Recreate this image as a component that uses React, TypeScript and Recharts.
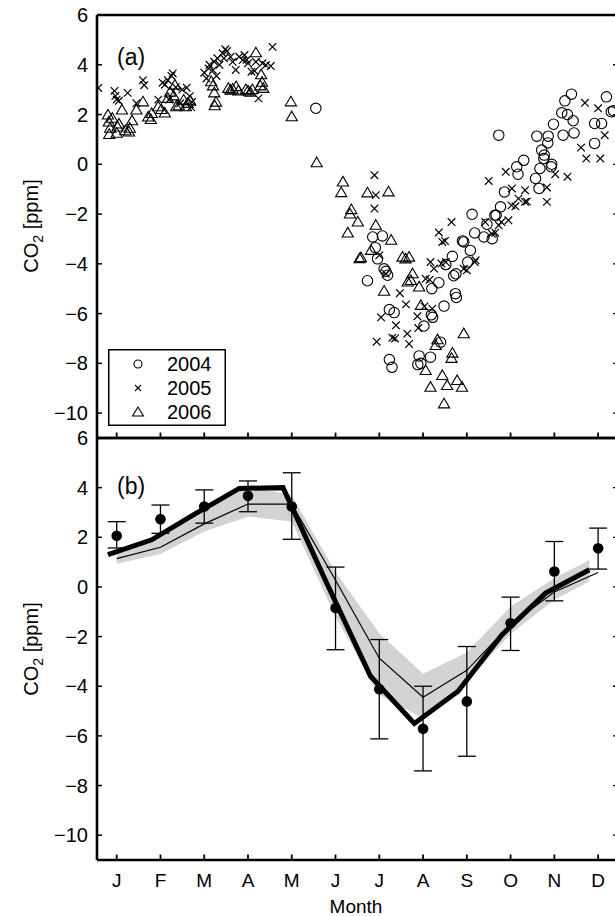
import React from "react";
import {
  Scatter,
  ComposedChart,
  Line,
  Area,
  XAxis,
  YAxis,
  ErrorBar,
} from "recharts";

const FONT = "'Liberation Sans', Arial, Helvetica, sans-serif";

// x is the month position, 1 = January tick
const monthTicks = [1, 2, 3, 4, 5, 6, 7, 8, 9, 10, 11, 12];
const monthLabels = ["J", "F", "M", "A", "M", "J", "J", "A", "S", "O", "N", "D"];
const co2Ticks = [-10, -8, -6, -4, -2, 0, 2, 4, 6];
const years = ["2004", "2005", "2006"];

// panel (a): observations per year, [month, CO2 ppm]
const obs2004: [number, number][] = [
  [5.55, 2.25],
  [6.73, -4.68], [6.85, -2.92], [6.91, -3.35], [6.96, -3.8], [7.07, -2.88], [7.11, -4.2], [7.15, -4.3], [7.19, -4.46],
  [7.23, -5.84], [7.34, -5.96], [7.23, -7.85], [7.29, -8.16],
  [7.91, -7.7], [7.95, -8.0], [7.88, -8.05], [8.17, -7.75], [8.4, -7.15],
  [8.02, -6.5], [8.19, -6.05], [8.22, -6.15], [8.48, -5.7], [8.74, -5.2], [8.76, -5.35],
  [8.2, -5.0], [8.36, -4.76], [8.52, -4.03], [8.67, -3.7], [8.7, -4.48], [8.75, -4.4],
  [8.9, -3.08], [8.93, -3.12], [9.02, -3.93], [9.08, -3.46], [9.12, -2.01], [9.18, -2.76],
  [9.39, -2.92], [9.46, -2.41], [9.58, -2.99], [9.64, -2.05], [9.67, -2.05], [9.77, -1.71], [9.86, -1.11],
  [9.73, 1.17],
  [10.14, -0.1], [10.17, -0.4], [10.3, 0.16], [10.57, -0.57], [10.6, 1.13], [10.65, -0.97], [10.67, -0.17],
  [10.71, 0.57], [10.77, 0.37], [10.76, 0.23], [10.85, 0.86], [10.86, 1.13], [10.94, 0.0], [10.93, -0.1],
  [10.98, 1.61], [11.17, 2.07], [11.2, 1.17], [11.24, 2.55], [11.3, 2.0], [11.39, 2.82], [11.43, 1.75], [11.45, 1.26],
  [11.92, 1.64], [11.92, 0.84], [12.08, 1.64], [12.19, 2.71], [12.3, 2.11], [12.35, 2.15],
];

const obs2005: [number, number][] = [
  [0.58, 3.07], [0.95, 2.95], [0.97, 2.75], [1.0, 2.6], [1.05, 2.55], [1.25, 2.87], [1.45, 2.45], [1.6, 3.38],
  [1.63, 3.18], [1.95, 2.6], [2.05, 3.28], [2.1, 3.2], [2.17, 3.38], [2.25, 3.55], [2.28, 3.65], [2.35, 3.1],
  [2.5, 3.0], [2.6, 3.08], [2.67, 2.74], [2.72, 2.5], [2.7, 2.3], [2.45, 2.45], [2.2, 2.6],
  [3.0, 3.68], [3.05, 3.45], [3.1, 3.85], [3.12, 4.0], [3.2, 3.78], [3.23, 4.12], [3.28, 3.55], [3.3, 4.26],
  [3.35, 4.0], [3.42, 4.46], [3.45, 4.26], [3.48, 4.62], [3.52, 4.55], [3.6, 4.32], [3.65, 4.12], [3.72, 3.79],
  [3.8, 4.32], [3.88, 4.19], [3.92, 4.39], [3.97, 4.2], [4.0, 4.06], [4.08, 3.72], [4.15, 3.75], [4.18, 4.12],
  [4.24, 2.65], [4.33, 4.06], [4.41, 3.99], [4.52, 3.95], [4.56, 4.72],
  [6.89, -0.44], [6.92, -1.24], [6.89, -1.78], [7.0, -3.66], [7.15, -4.4], [7.47, -5.18], [7.61, -5.63],
  [7.04, -6.15], [7.38, -6.47], [7.87, -6.11], [7.89, -6.58], [7.64, -6.81], [7.3, -6.97], [7.36, -7.0],
  [6.94, -7.13], [7.68, -7.22],
  [8.03, -5.71], [8.21, -5.8], [8.15, -4.64], [8.06, -4.6], [8.25, -4.19], [8.17, -3.93], [8.36, -2.74],
  [8.44, -3.12], [8.5, -3.08], [8.65, -2.32], [8.42, -3.99], [8.52, -3.93], [8.93, -4.2], [9.0, -4.26],
  [9.18, -3.93], [9.2, -3.86],
  [9.42, -2.32], [9.5, -0.67], [9.57, -2.79], [9.65, -2.75], [9.73, -2.45], [9.79, -2.32], [9.89, -0.3],
  [9.95, -2.25], [10.02, -1.65], [10.03, -0.97], [10.11, -1.69], [10.18, -1.38], [10.33, -1.04], [10.33, -1.51],
  [10.37, -1.5], [10.83, -0.93], [10.83, -1.51], [11.02, -0.4], [11.3, -0.5], [11.61, 0.67], [11.7, 2.47],
  [11.73, 0.23], [12.0, 2.25], [12.05, 0.23], [12.15, 1.17],
];

const obs2006: [number, number][] = [
  [0.8, 1.98], [0.82, 1.7], [0.85, 1.45], [0.83, 1.2], [0.9, 1.85], [1.0, 1.25], [1.02, 1.5], [1.05, 1.62],
  [1.12, 2.18], [1.2, 1.35], [1.28, 1.3], [1.3, 1.45], [1.35, 1.75], [1.45, 2.18], [1.6, 2.51], [1.72, 1.9],
  [1.78, 1.8], [1.8, 2.04], [1.95, 2.31], [2.02, 2.2], [2.1, 2.06], [2.17, 2.65], [2.22, 2.9], [2.3, 2.75],
  [2.33, 3.18], [2.36, 2.31], [2.42, 2.35], [2.53, 2.58], [2.58, 2.31], [2.62, 2.45], [2.68, 2.55],
  [3.16, 3.32], [3.2, 3.15], [3.23, 2.87], [3.27, 2.5], [3.24, 2.35], [3.55, 3.05], [3.6, 2.98], [3.65, 3.02],
  [3.73, 3.12], [3.78, 2.95], [3.95, 3.0], [4.0, 2.95], [4.05, 2.9], [4.1, 3.0], [4.18, 4.48], [4.3, 3.6],
  [4.32, 3.3], [4.35, 3.05], [4.28, 3.15],
  [4.98, 2.51], [5.0, 1.91], [5.57, 0.06],
  [6.17, -0.71], [6.13, -1.14], [6.73, -1.15], [7.21, -1.11], [6.36, -1.82], [6.33, -2.0], [6.51, -2.32],
  [6.28, -2.76], [6.92, -2.45], [7.27, -3.05], [6.81, -3.46], [6.55, -3.79], [6.58, -3.75], [7.11, -5.1],
  [7.53, -3.73], [7.6, -3.8], [7.68, -3.73], [7.76, -4.4], [7.65, -4.73], [7.72, -4.67], [7.91, -4.93], [7.95, -5.67],
  [8.33, -7.05], [8.29, -7.28], [8.93, -6.81], [8.67, -7.59], [8.65, -7.8], [8.44, -8.49], [8.17, -8.96],
  [8.55, -8.89], [8.06, -8.29], [8.78, -8.69], [8.89, -8.96], [8.48, -9.63],
];

// panel (b): monthly means with error bars
const meanCO2 = [2.06, 2.73, 3.24, 3.67, 3.24, -0.85, -4.12, -5.71, -4.61, -1.46, 0.62, 1.56];
const meanErrLow = [0.49, 0.57, 0.67, 0.64, 1.32, 1.68, 2.0, 1.7, 2.21, 1.1, 1.18, 0.84];
const meanErrHigh = [0.57, 0.57, 0.67, 0.6, 1.36, 1.65, 2.0, 1.71, 2.21, 1.05, 1.21, 0.81];

// thick curve
const thickMonths = [0.8, 1.8, 2.8, 3.8, 4.8, 5.8, 6.8, 7.8, 8.8, 9.8, 10.8, 11.8];
const thickCO2 = [1.3, 1.9, 2.95, 3.97, 4.0, 0.15, -3.6, -5.5, -4.2, -1.93, -0.25, 0.69];

// thin curve
const thinMonths = [1, 2, 3, 4, 5, 6, 7, 8, 9, 10, 11, 12];
const thinCO2 = [1.14, 1.6, 2.54, 3.34, 3.34, 0.27, -2.87, -4.44, -3.36, -1.5, -0.2, 0.58];

// grey range
const bandMonths = [1, 2, 3, 4, 5, 6, 7, 8, 9, 10, 11, 11.8];
const bandLow = [0.93, 1.33, 2.23, 2.83, 2.64, -1.2, -4.34, -5.29, -3.81, -1.9, -0.52, 0.22];
const bandHigh = [1.45, 2.0, 3.1, 4.07, 3.7, 0.6, -1.87, -3.5, -2.64, -0.79, 0.35, 1.09];

const toPts = (a: [number, number][]) => a.map(([m, v]) => ({ m, v }));
const meanRows = monthTicks.map((m, i) => ({ m, mean: meanCO2[i], err: [meanErrLow[i], meanErrHigh[i]] }));
const thickRows = thickMonths.map((m, i) => ({ m, thick: thickCO2[i] }));
const thinRows = thinMonths.map((m, i) => ({ m, thin: thinCO2[i] }));
const bandRows = bandMonths.map((m, i) => ({ m, band: [bandLow[i], bandHigh[i]] }));

const X_DOMAIN: [number, number] = [0.55, 12.5];
const Y_DOMAIN: [number, number] = [-11, 6];
const PLOT_LEFT = 97;
const PLOT_RIGHT = 620;
const AXIS = { stroke: "#000", strokeWidth: 2.6 };

const fmt = (v: number) => (v < 0 ? "\u2212" + Math.abs(v) : String(v));

// left labels + inward ticks on both the left and the (clipped) right frame edge
const LeftTick = (props: any) => {
  const { y, payload } = props;
  return (
    <g>
      <line x1={PLOT_LEFT} x2={PLOT_LEFT + 5} y1={y} y2={y} stroke="#000" strokeWidth={1.5} />
      <line x1={PLOT_RIGHT - 7} x2={PLOT_RIGHT} y1={y} y2={y} stroke="#000" strokeWidth={1.3} />
      <text x={88} y={y + 7} textAnchor="end" fontSize={20} fontFamily={FONT} fill="#000">
        {fmt(payload.value)}
      </text>
    </g>
  );
};

const makeXTick = (edgeY: number, dir: number, label: boolean) => (props: any) => {
  const { x, payload } = props;
  return (
    <g>
      <line x1={x} x2={x} y1={edgeY} y2={edgeY + dir * 5.5} stroke="#000" strokeWidth={1.8} />
      {label && (
        <text x={x} y={edgeY + 27} textAnchor="middle" fontSize={19} fontFamily={FONT} fill="#000">
          {monthLabels[payload.value - 1]}
        </text>
      )}
    </g>
  );
};

const CircleMark = (p: any) => (
  <circle cx={p.cx} cy={p.cy} r={5.2} fill="none" stroke="#000" strokeWidth={1.1} />
);
const CrossMark = (p: any) => {
  const s = 3.8;
  return (
    <path
      d={`M${p.cx - s},${p.cy - s}L${p.cx + s},${p.cy + s}M${p.cx - s},${p.cy + s}L${p.cx + s},${p.cy - s}`}
      stroke="#000"
      strokeWidth={1.2}
      fill="none"
    />
  );
};
const TriMark = (p: any) => (
  <path
    d={`M${p.cx},${p.cy - 5.6}L${p.cx + 5.6},${p.cy + 4}L${p.cx - 5.6},${p.cy + 4}Z`}
    fill="none"
    stroke="#000"
    strokeWidth={1.1}
  />
);

// legend box for panel (a), page coords 108..225 x 349..425
function YearLegend() {
  const rows = [364, 388, 412];
  const mx = 138;
  return (
    <g>
      <rect x={108.75} y={349.75} width={116.5} height={75.5} fill="#fff" stroke="#000" strokeWidth={1.5} />
      <circle cx={mx} cy={rows[0]} r={4} fill="none" stroke="#000" strokeWidth={1.1} />
      <path
        d={`M${mx - 3},${rows[1] - 3}L${mx + 3},${rows[1] + 3}M${mx - 3},${rows[1] + 3}L${mx + 3},${rows[1] - 3}`}
        stroke="#000"
        strokeWidth={1.1}
      />
      <path
        d={`M${mx},${rows[2] - 5}L${mx + 5.5},${rows[2] + 4}L${mx - 5.5},${rows[2] + 4}Z`}
        fill="none"
        stroke="#000"
        strokeWidth={1.1}
      />
      {years.map((yr, i) => (
        <text key={yr} x={167} y={rows[i] + 7} fontSize={20} fontFamily={FONT} fill="#000">
          {yr}
        </text>
      ))}
    </g>
  );
}

// shared frame: bottom + top x axes, left y axis (axes of height 0 are not drawn, so use 1)
function Axes({ top, bottom, labels }: { top: number; bottom: number; labels: boolean }) {
  return [
    <XAxis
      key="xb"
      dataKey="m"
      type="number"
      domain={X_DOMAIN}
      allowDataOverflow
      ticks={monthTicks}
      height={labels ? 40 : 1}
      axisLine={AXIS}
      tickLine={false}
      tick={makeXTick(bottom, -1, labels)}
    />,
    <XAxis
      key="xt"
      xAxisId="top"
      orientation="top"
      type="number"
      domain={X_DOMAIN}
      allowDataOverflow
      ticks={monthTicks}
      height={1}
      axisLine={AXIS}
      tickLine={false}
      tick={makeXTick(top, 1, false)}
    />,
    <YAxis
      key="yl"
      type="number"
      domain={Y_DOMAIN}
      allowDataOverflow
      ticks={co2Ticks}
      width={97}
      axisLine={AXIS}
      tickLine={false}
      tick={<LeftTick />}
    />,
  ];
}

function PanelA() {
  // plot area: page y 15 .. 438
  return (
    <div style={{ position: "absolute", left: 0, top: 0 }}>
      <ComposedChart width={640} height={450} margin={{ top: 14, right: 20, bottom: 11, left: 0 }}>
        {Axes({ top: 15, bottom: 438, labels: false })}
        <Scatter name="2004" data={toPts(obs2004)} dataKey="v" shape={CircleMark} isAnimationActive={false} />
        <Scatter name="2005" data={toPts(obs2005)} dataKey="v" shape={CrossMark} isAnimationActive={false} />
        <Scatter name="2006" data={toPts(obs2006)} dataKey="v" shape={TriMark} isAnimationActive={false} />
      </ComposedChart>
    </div>
  );
}

function PanelB() {
  // chart placed at page y 428; plot area local 10 .. 432 (page 438 .. 860)
  return (
    <div style={{ position: "absolute", left: 0, top: 428 }}>
      <ComposedChart width={640} height={488} margin={{ top: 9, right: 20, bottom: 16, left: 0 }}>
        {Axes({ top: 10, bottom: 432, labels: true })}
        <Area
          data={bandRows}
          dataKey="band"
          type="linear"
          fill="#d3d3d3"
          fillOpacity={1}
          stroke="none"
          isAnimationActive={false}
        />
        <Line
          data={thinRows}
          dataKey="thin"
          type="linear"
          stroke="#000"
          strokeWidth={1.2}
          dot={false}
          activeDot={false}
          isAnimationActive={false}
        />
        <Line
          data={thickRows}
          dataKey="thick"
          type="linear"
          stroke="#000"
          strokeWidth={5}
          strokeLinejoin="miter"
          dot={false}
          activeDot={false}
          isAnimationActive={false}
        />
        <Line
          data={meanRows}
          dataKey="mean"
          type="linear"
          stroke="none"
          dot={{ r: 5.3, fill: "#000", stroke: "none" }}
          activeDot={false}
          isAnimationActive={false}
        >
          <ErrorBar dataKey="err" direction="y" width={9} stroke="#000" strokeWidth={1.3} />
        </Line>
      </ComposedChart>
    </div>
  );
}

export default function App() {
  return (
    <div
      style={{
        position: "absolute",
        left: 0,
        top: 0,
        width: 615,
        height: 916,
        overflow: "hidden",
        background: "#fff",
        fontFamily: FONT,
      }}
    >
      <PanelA />
      <PanelB />
      <svg
        width={615}
        height={916}
        style={{ position: "absolute", left: 0, top: 0, pointerEvents: "none" }}
      >
        <YearLegend />
        <text x={117} y={65} fontSize={23} fontFamily={FONT} fill="#000">(a)</text>
        <text x={117} y={494} fontSize={23} fontFamily={FONT} fill="#000">(b)</text>
        {[226, 649].map((cy) => (
          <text
            key={cy}
            transform={`translate(38,${cy}) rotate(-90)`}
            textAnchor="middle"
            fontSize={20}
            fontFamily={FONT}
            fill="#000"
          >
            CO<tspan dy={5} fontSize={14}>2</tspan>
            <tspan dy={-5}> [ppm]</tspan>
          </text>
        ))}
        <text x={356} y={913} textAnchor="middle" fontSize={19} fontFamily={FONT} fill="#000">
          Month
        </text>
      </svg>
    </div>
  );
}
